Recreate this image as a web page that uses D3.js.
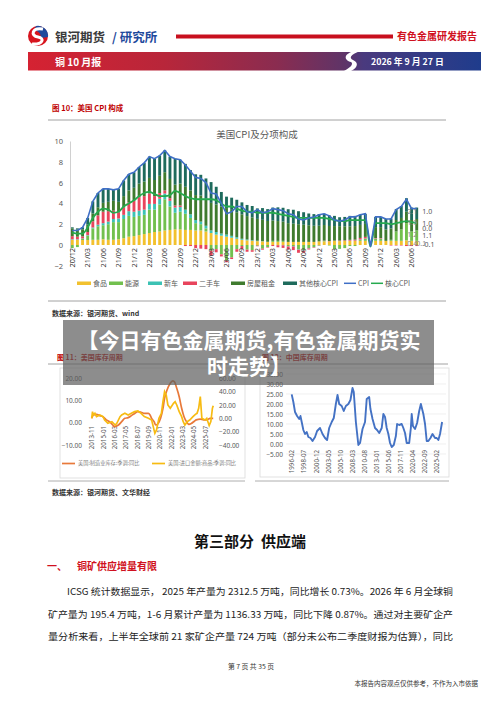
<!DOCTYPE html>
<html>
<meta charset="utf-8">
<head>
<script src="https://cdn.jsdelivr.net/npm/d3@7"></script>
<style>
body { margin: 0; background: #fff; }
svg { display: block; font-family: "Noto Sans CJK SC", "Noto Sans", sans-serif; }
</style>
</head>
<body>
<script>
// ---- 图10 美国CPI构成 (20/12 - 26/07, 68 months) ----
var months = ["20/12",
  "21/01","21/02","21/03","21/04","21/05","21/06","21/07","21/08","21/09","21/10","21/11","21/12",
  "22/01","22/02","22/03","22/04","22/05","22/06","22/07","22/08","22/09","22/10","22/11","22/12",
  "23/01","23/02","23/03","23/04","23/05","23/06","23/07","23/08","23/09","23/10","23/11","23/12",
  "24/01","24/02","24/03","24/04","24/05","24/06","24/07","24/08","24/09","24/10","24/11","24/12",
  "25/01","25/02","25/03","25/04","25/05","25/06","25/07","25/08","25/09","25/10","25/11","25/12",
  "26/01","26/02","26/03","26/04","26/05","26/06","26/07"];

var food = [0.5,0.5,0.48,0.48,0.5,0.5,0.55,0.5,0.5,0.55,
  0.65,0.8,0.85,0.95,1.05,1.15,1.25,1.3,1.4,1.45,
  1.5,1.5,1.45,1.45,1.4,1.4,1.3,1.15,1.0,0.9,
  0.8,0.7,0.6,0.5,0.45,0.4,0.37,0.35,0.3,0.3,
  0.3,0.3,0.3,0.3,0.3,0.3,0.3,0.3,0.35,0.35,
  0.35,0.4,0.37,0.4,0.4,0.4,0.4,0.4,0,0.4,
  0.4,0.4,0.4,0.4,0.4,0.45,0.4,0.4];
var energy = [-0.3,-0.2,0.12,0.42,1.1,1.3,1.35,1.5,1.7,1.65,
  1.85,2.0,1.85,1.85,1.85,2.25,2.15,2.6,3.0,2.25,
  1.6,1.7,1.55,1.15,0.7,0.6,0.3,-0.55,-0.4,-0.9,
  -1.5,-1.2,-0.4,-0.1,-0.45,-0.5,-0.07,-0.35,-0.2,0.1,
  0.1,0.1,-0.1,-0.1,-0.4,-0.5,-0.3,-0.2,-0.05,0.05,
  -0.05,-0.4,-0.37,-0.3,-0.1,-0.1,0.1,0.2,0,0.2,
  0.2,0.0,0.1,0.9,1.1,1.65,0.9,1.0];
var newCar = [0.05,0.05,0.03,0.05,0.08,0.15,0.2,0.25,0.3,0.35,
  0.4,0.45,0.5,0.5,0.5,0.55,0.55,0.55,0.55,0.55,
  0.5,0.45,0.4,0.35,0.3,0.25,0.25,0.25,0.25,0.2,
  0.2,0.18,0.15,0.1,0.08,0.05,0.04,0.02,0.01,0.0,
  -0.02,-0.03,-0.04,-0.04,-0.05,-0.05,-0.03,-0.02,-0.01,0.0,
  0.0,0.0,0.01,0.0,0.02,0.02,0.03,0.03,0,0.02,
  0.02,0.0,0.0,0.0,0.0,0.0,0.0,0.0];
var usedCar = [0.3,0.25,0.2,0.3,0.6,0.9,1.1,1.0,0.8,0.6,
  0.7,0.85,1.05,1.3,1.3,1.0,0.75,0.55,0.3,0.25,
  0.2,0.15,-0.1,-0.1,-0.3,-0.35,-0.4,-0.5,-0.3,-0.2,
  -0.15,-0.15,-0.25,-0.3,-0.2,-0.15,-0.05,-0.1,-0.05,-0.1,
  -0.2,-0.25,-0.3,-0.35,-0.3,-0.2,-0.1,-0.05,-0.02,0.02,
  0.03,0.02,0.05,0.05,0.08,0.1,0.15,0.15,0,0.05,
  0.05,0.0,-0.05,-0.05,-0.05,-0.1,-0.1,-0.1];
var rent = [0.75,0.7,0.68,0.7,0.75,0.78,0.85,0.9,0.95,1.0,
  1.1,1.15,1.25,1.3,1.4,1.5,1.55,1.65,1.75,1.85,
  2.0,2.1,2.2,2.3,2.4,2.5,2.6,2.65,2.65,2.6,
  2.55,2.5,2.4,2.35,2.25,2.2,2.1,2.05,2.0,1.95,
  1.9,1.85,1.8,1.75,1.7,1.65,1.6,1.55,1.5,1.5,
  1.45,1.4,1.38,1.35,1.3,1.3,1.25,1.25,0,1.05,
  1.05,1.1,1.1,1.1,1.1,1.1,1.1,1.1];
var otherCore = [0.1,0.1,0.19,0.65,1.17,1.37,1.35,1.25,1.05,1.25,
  1.5,1.55,1.5,1.6,1.8,2.05,2.05,1.95,2.1,2.15,
  2.5,2.3,2.2,1.95,2.0,2.0,1.95,2.0,1.7,1.4,
  1.1,1.17,1.2,1.15,1.07,1.1,1.01,1.13,1.14,1.25,
  1.32,1.33,1.34,1.34,1.25,1.2,1.13,1.12,1.13,1.08,
  1.02,0.98,0.86,0.9,1.0,0.98,0.97,0.97,0,0.98,
  0.98,1.0,0.95,1.05,1.15,1.3,1.2,1.1];
var cpi = [1.4,1.4,1.7,2.6,4.2,5.0,5.4,5.4,5.3,5.4,
  6.2,6.8,7.0,7.5,7.9,8.5,8.3,8.6,9.1,8.5,
  8.3,8.2,7.7,7.1,6.5,6.4,6.0,5.0,4.9,4.0,
  3.0,3.2,3.7,3.7,3.2,3.1,3.4,3.1,3.2,3.5,
  3.4,3.3,3.0,2.9,2.5,2.4,2.6,2.7,2.9,3.0,
  2.8,2.4,2.3,2.4,2.7,2.7,2.9,3.0,-0.15,2.7,
  2.7,2.5,2.5,3.4,3.7,4.4,3.5,3.5];
var coreCpi = [1.2,1.1,1.1,1.7,2.6,3.2,3.5,3.4,3.1,3.2,
  3.7,4.0,4.3,4.7,5.0,5.1,4.9,4.7,4.7,4.8,
  5.2,5.0,4.7,4.5,4.4,4.4,4.4,4.4,4.3,4.0,
  3.7,3.7,3.5,3.3,3.2,3.2,3.1,3.1,3.1,3.1,
  3.0,2.9,2.8,2.7,2.6,2.6,2.6,2.6,2.6,2.6,
  2.5,2.4,2.3,2.3,2.4,2.4,2.4,2.4,-0.15,2.1,
  2.1,2.1,2.0,2.1,2.2,2.3,2.2,2.1];
var cpiTicks = [-2, 0, 2, 4, 6, 8, 10];
// data labels drawn beside the last bar
var endLabelText = ["2.1","1.0","1.9","1.0","0.0","1.2","1.1","0.4","0.1","-0.1"];
var endLabelValue = [3.2, 3.2, 2.15, 2.1, 1.55, 1.0, 0.95, 0.15, 0.15, 0.0];
var endLabelSide = ["in","out","in","out","out","in","out","in","mid","out"];

// ---- 图11 美国库存周期 ----
var usMfgInventory = [["2013-11",2.0],["2014-01",3.5],["2014-05",3.8],["2014-09",3.2],["2015-01",2.7],
  ["2015-05",1.3],["2015-09",0.5],["2016-01",-1.0],["2016-03",-1.7],["2016-08",-1.0],["2016-12",0.5],
  ["2017-04",2.0],["2017-08",2.3],["2017-12",3.2],["2018-04",4.2],["2018-08",5.0],["2018-12",4.7],
  ["2019-04",4.2],["2019-09",4.2],["2019-11",3.5],["2020-01",2.0],["2020-04",0.5],["2020-06",-1.0],
  ["2020-09",-0.3],["2020-12",2.0],["2021-03",6.5],["2021-05",11.0],["2021-08",14.7],["2021-12",17.8],
  ["2022-03",18.8],["2022-05",18.5],["2022-08",15.5],["2022-11",11.7],["2023-02",6.5],["2023-05",2.7],
  ["2023-08",0.5],["2023-11",-0.7],["2024-02",-0.3],["2024-06",0.8],["2024-08",1.3],["2025-01",1.6],
  ["2025-05",1.3],["2025-09",1.3],["2026-01",2.0],["2026-05",2.0]];
var usImports = [["2013-11",0],["2013-12",10],["2014-01",5],["2014-03",7.5],["2014-05",2.5],["2014-09",5],
  ["2015-01",2.5],["2015-03",-2.5],["2015-07",-7.5],["2015-12",-5],["2016-04",-10],["2016-06",-7.5],
  ["2016-10",2.5],["2016-12",5],["2017-04",7.5],["2017-08",5],["2017-12",7.5],["2018-04",10],
  ["2018-08",11],["2018-12",7.5],["2019-04",2.5],["2019-09",0],["2020-01",-2.5],["2020-03",-12.5],
  ["2020-05",-22.5],["2020-07",-17.5],["2020-10",0],["2021-01",7.5],["2021-03",25],["2021-05",40],
  ["2021-07",35],["2021-09",20],["2021-12",15],["2022-04",22.5],["2022-06",25],["2022-08",20],
  ["2022-11",10],["2023-02",2.5],["2023-04",-5],["2023-06",-10],["2023-09",-5],["2023-12",-2.5],
  ["2024-04",2.5],["2024-07",6],["2024-09",7.5],["2024-11",15],["2025-01",32.5],["2025-03",0],
  ["2025-07",-2.5],["2025-09",0],["2025-12",-11],["2026-02",-5],["2026-04",15],["2026-05",19]];
var usLeftTicks = [-10, 0, 10, 20];
var usRightTicks = [-40, -20, 0, 20, 40, 60];

// ---- 图12 中国库存周期 ----
var cnInventory = [["1996-02",24.8],["1996-06",21],["1996-10",16],["1997-03",14],["1997-08",12.5],
  ["1997-11",14],["1998-02",11],["1998-06",7],["1998-10",5],["1999-02",6],["1999-06",3.5],
  ["1999-11",3],["2000-04",1.5],["2000-10",3.5],["2001-03",6.5],["2001-10",8],["2002-04",5],
  ["2002-10",3],["2003-03",2],["2003-08",8],["2004-02",11],["2004-07",13],["2004-12",20],
  ["2005-04",24.5],["2005-08",20],["2006-02",19],["2006-07",16.5],["2006-12",19],["2007-06",20],
  ["2007-11",22],["2008-04",28],["2008-07",26],["2008-12",11],["2009-06",-0.5],["2009-10",0.5],
  ["2010-04",7.5],["2010-10",11],["2011-02",22.5],["2011-08",23.5],["2011-11",17.5],["2012-04",12.5],
  ["2012-10",8],["2013-03",7],["2013-08",5.5],["2014-02",8],["2014-06",15],["2014-10",13.5],
  ["2015-02",8],["2015-06",5],["2015-10",0.5],["2016-02",-1.5],["2016-07",-0.5],["2016-12",4],
  ["2017-03",10],["2017-08",9.5],["2018-02",10],["2018-06",8],["2018-10",5.5],["2019-02",0.5],
  ["2019-08",0.5],["2019-12",8],["2020-02",15],["2020-05",9],["2020-10",7.5],["2021-03",10.5],
  ["2021-08",16.5],["2021-12",20],["2022-06",15],["2022-10",10],["2023-02",1.5],["2023-06",1.5],
  ["2023-11",3],["2024-04",5],["2024-10",3],["2025-02",3],["2025-06",2],["2025-10",5],["2026-03",11]];
var cnTicks = [-5, 0, 5, 10, 15, 20, 25, 30, 35];

var svg = d3.select("body").append("svg").attr("width", 500).attr("height", 707);
svg.append("rect").attr("width", 500).attr("height", 707).attr("fill", "#fff");
var defs = svg.append("defs");

// ---------- header ----------
var logo = svg.append("g").attr("transform", "translate(38,36)");
logo.append("circle").attr("r", 10).attr("fill", "#d7141e");
logo.append("path").attr("d", "M-2,-10 A10,10 0 0 1 10,1 L3,2 C3,-3 0,-5 -4,-6 Z").attr("fill", "#1f4a9c");
logo.append("path").attr("d", "M5,-7 C-6,-9 -8,0 0,1 C7,2 5,9 -6,8").attr("fill", "none").attr("stroke", "#fff").attr("stroke-width", 3);

svg.append("text").attr("x", 55).attr("y", 42).attr("font-size", 12.5).attr("font-weight", 700)
  .attr("fill", "#3a3a3a").text("银河期货");
svg.append("text").attr("x", 112).attr("y", 42).attr("font-size", 12.5).attr("font-weight", 700)
  .attr("fill", "#1f4a9c").text("/ 研究所");
svg.append("rect").attr("x", 176).attr("y", 34.5).attr("width", 217).attr("height", 4).attr("fill", "#c8101e");
svg.append("text").attr("x", 397).attr("y", 40).attr("font-size", 10).attr("font-weight", 700)
  .attr("fill", "#d0101e").text("有色金属研发报告");

var grad = defs.append("linearGradient").attr("id", "banner")
  .attr("gradientUnits", "userSpaceOnUse").attr("x1", 28).attr("x2", 481).attr("y1", 0).attr("y2", 0);
[[0, "#d52232"], [0.3, "#b8263a"], [0.55, "#8a2c50"], [0.7, "#5e3468"], [0.74, "#4a3a7e"], [1, "#1f3c8c"]]
  .forEach(function (s) { grad.append("stop").attr("offset", s[0]).attr("stop-color", s[1]); });
svg.append("rect").attr("x", 28).attr("y", 52).attr("width", 453).attr("height", 18.5).attr("fill", "url(#banner)");
svg.append("path").attr("d", "M354,51 C341,55 346,61 351,62 C354,64 350,68 344,71 L351,71 C359,67 358,62 353,60 C349,58 350,55 360,51 Z")
  .attr("fill", "#fff");
svg.append("text").attr("x", 55).attr("y", 65.5).attr("font-size", 10).attr("font-weight", 700)
  .attr("fill", "#fff").text("铜 10 月报");
svg.append("text").attr("x", 371).attr("y", 65).attr("font-size", 8.8).attr("font-weight", 700)
  .attr("fill", "#fff").text("2026 年 9 月 27 日");

// ---------- 图10 ----------
svg.append("text").attr("x", 52).attr("y", 110.5).attr("font-size", 7.5).attr("font-weight", 700)
  .attr("fill", "#c00000").text("图 10：美国 CPI 构成");
svg.append("line").attr("x1", 48).attr("x2", 446).attr("y1", 120).attr("y2", 120).attr("stroke", "#8c8c8c").attr("stroke-width", 0.8);
svg.append("text").attr("x", 257).attr("y", 138).attr("text-anchor", "middle").attr("font-size", 9.5)
  .attr("fill", "#595959").text("美国CPI及分项构成");

var keys = ["food", "energy", "newCar", "usedCar", "rent", "other"];
var names = {food: "食品", energy: "能源", newCar: "新车", usedCar: "二手车", rent: "房屋租金", other: "其他核心CPI"};
var colors = {food: "#f2c12e", energy: "#72c04e", newCar: "#3cc2b4", usedCar: "#e8445c", rent: "#3f7b2e", other: "#1e6b5c"};

var rows = months.map(function (m, i) {
  return {m: m, food: food[i], energy: energy[i], newCar: newCar[i], usedCar: usedCar[i], rent: rent[i], other: otherCore[i]};
});
var series = d3.stack().keys(keys).offset(d3.stackOffsetDiverging)(rows);

var x = d3.scaleBand().domain(months).range([69.7, 419.3]).paddingInner(0.44).paddingOuter(0.22);
var y = d3.scaleLinear().domain([-2, 10]).range([265.8, 141]);
var half = x.bandwidth() / 2;

var chart = svg.append("g");
chart.selectAll("g.layer").data(series).join("g").attr("class", "layer")
  .attr("fill", function (d) { return colors[d.key]; })
  .selectAll("rect").data(function (d) { return d; }).join("rect")
  .attr("x", function (d) { return x(d.data.m); })
  .attr("width", x.bandwidth())
  .attr("y", function (d) { return y(Math.max(d[0], d[1])); })
  .attr("height", function (d) { return Math.abs(y(d[0]) - y(d[1])); });

var lineCpi = d3.line().x(function (d, i) { return x(months[i]) + half; }).y(function (d) { return y(d); });
var lineCore = d3.line().x(function (d, i) { return x(months[i]) + half; }).y(function (d) { return y(d); })
  .curve(d3.curveMonotoneX);
chart.append("path").datum(coreCpi).attr("d", lineCore).attr("fill", "none")
  .attr("stroke", "#25aa4e").attr("stroke-width", 1.8);
chart.append("path").datum(cpi).attr("d", lineCpi).attr("fill", "none")
  .attr("stroke", "#3f6fc6").attr("stroke-width", 1.6);

var yAx = chart.append("g").attr("transform", "translate(70,0)")
  .call(d3.axisLeft(y).tickValues(cpiTicks).tickSize(0).tickPadding(7));
yAx.select(".domain").attr("stroke", "#d0d0d0");
yAx.selectAll("text").attr("font-size", 7.5).attr("fill", "#595959").attr("font-family", "Noto Sans");

var xAx = chart.append("g").attr("transform", "translate(0," + y(0) + ")")
  .call(d3.axisBottom(x).tickValues(months.filter(function (d, i) { return i % 3 === 0; })).tickSize(0));
xAx.select(".domain").remove();
xAx.selectAll("text").attr("transform", "rotate(-90)").attr("x", -3).attr("y", 0).attr("dy", "0.35em")
  .style("text-anchor", "end").attr("font-size", 7.3).attr("fill", "#404040").attr("font-family", "Noto Sans");

var lastX = x(months[months.length - 1]);
chart.selectAll("text.endlab").data(endLabelText).join("text").attr("class", "endlab")
  .attr("x", function (d, i) { return endLabelSide[i] === "out" ? lastX + 7 : endLabelSide[i] === "mid" ? lastX + 1 : lastX - 8; })
  .attr("y", function (d, i) { return y(endLabelValue[i]); })
  .attr("dy", "0.35em").attr("font-size", 7).attr("font-family", "Noto Sans")
  .attr("fill", function (d, i) { return endLabelSide[i] === "out" ? "#595959" : "#8a8a8a"; })
  .text(function (d) { return d; });

// legend
var legendX = [77, 109, 148, 183, 231, 283];
var legend = chart.append("g").attr("font-size", 7).attr("fill", "#595959");
keys.forEach(function (k, i) {
  legend.append("rect").attr("x", legendX[i]).attr("y", 281.5).attr("width", 14).attr("height", 3.5).attr("fill", colors[k]);
  legend.append("text").attr("x", legendX[i] + 16).attr("y", 283.3).attr("dy", "0.35em").text(names[k]);
});
[["CPI", "#3f6fc6", 344], ["核心CPI", "#25aa4e", 371]].forEach(function (l) {
  legend.append("line").attr("x1", l[2]).attr("x2", l[2] + 12).attr("y1", 283.3).attr("y2", 283.3)
    .attr("stroke", l[1]).attr("stroke-width", 1.5);
  legend.append("text").attr("x", l[2] + 14).attr("y", 283.3).attr("dy", "0.35em").text(l[0]);
});

svg.append("line").attr("x1", 48).attr("x2", 446).attr("y1", 301).attr("y2", 301).attr("stroke", "#8c8c8c").attr("stroke-width", 0.8);
svg.append("text").attr("x", 52).attr("y", 316).attr("font-size", 7).attr("font-weight", 700)
  .attr("fill", "#333").text("数据来源：银河期货、wind");

// ---------- 图11 / 图12 ----------
var parse = d3.timeParse("%Y-%m");
var fmt = d3.timeFormat("%Y-%m");

svg.append("text").attr("x", 57).attr("y", 360).attr("font-size", 7).attr("font-weight", 700)
  .attr("fill", "#c00000").text("图 11：美国库存周期");
svg.append("text").attr("x", 262).attr("y", 360).attr("font-size", 7).attr("font-weight", 700)
  .attr("fill", "#c00000").text("图 12：中国库存周期");
svg.append("line").attr("x1", 48).attr("x2", 448).attr("y1", 364).attr("y2", 364).attr("stroke", "#8c8c8c").attr("stroke-width", 0.8);
svg.append("rect").attr("x", 60).attr("y", 368).attr("width", 185).attr("height", 110)
  .attr("fill", "none").attr("stroke", "#d9d9d9").attr("stroke-width", 0.8);
svg.append("rect").attr("x", 260).attr("y", 368).attr("width", 189).attr("height", 109)
  .attr("fill", "none").attr("stroke", "#d9d9d9").attr("stroke-width", 0.8);
svg.append("line").attr("x1", 48).attr("x2", 245).attr("y1", 481).attr("y2", 481).attr("stroke", "#999").attr("stroke-width", 0.8);
svg.append("line").attr("x1", 255).attr("x2", 449).attr("y1", 481).attr("y2", 481).attr("stroke", "#999").attr("stroke-width", 0.8);

// US chart
var xu = d3.scaleTime().domain([parse("2013-11"), parse("2026-05")]).range([91.7, 213.2]);
var yl = d3.scaleLinear().domain([-10, 20]).range([445, 378.3]);
var yr = d3.scaleLinear().domain([-40, 60]).range([445, 378.3]);
var us = svg.append("g");
var usTicks = d3.range(11).map(function (i) { return d3.timeMonth.offset(parse("2013-11"), 14 * i); });
var xuAx = us.append("g").attr("transform", "translate(0,423)")
  .call(d3.axisBottom(xu).tickValues(usTicks).tickFormat(fmt).tickSize(0));
xuAx.select(".domain").remove();
xuAx.selectAll("text").attr("transform", "rotate(-90)").attr("x", -3).attr("y", 0).attr("dy", "0.35em")
  .style("text-anchor", "end").attr("font-size", 6.2).attr("fill", "#595959").attr("font-family", "Noto Sans");
var ylAx = us.append("g").attr("transform", "translate(84,0)")
  .call(d3.axisLeft(yl).tickValues(usLeftTicks).tickFormat(d3.format(".2f")).tickSize(0).tickPadding(2));
ylAx.select(".domain").remove();
ylAx.selectAll("text").attr("font-size", 6.5).attr("fill", "#595959").attr("font-family", "Noto Sans");
var yrAx = us.append("g").attr("transform", "translate(218,0)")
  .call(d3.axisRight(yr).tickValues(usRightTicks).tickFormat(d3.format(".2f")).tickSize(0).tickPadding(1));
yrAx.select(".domain").remove();
yrAx.selectAll("text").attr("font-size", 6.5).attr("fill", "#595959").attr("font-family", "Noto Sans");

us.append("path").datum(usMfgInventory)
  .attr("d", d3.line().x(function (d) { return xu(parse(d[0])); }).y(function (d) { return yl(d[1]); }).curve(d3.curveMonotoneX))
  .attr("fill", "none").attr("stroke", "#e8793a").attr("stroke-width", 1.7);
us.append("path").datum(usImports)
  .attr("d", d3.line().x(function (d) { return xu(parse(d[0])); }).y(function (d) { return yr(d[1]); }))
  .attr("fill", "none").attr("stroke", "#f7bb12").attr("stroke-width", 1.7);

[["美国:制造业库存:季调:同比", "#e8793a", 62], ["美国:进口金额:商品:季调:同比", "#f7bb12", 152]].forEach(function (l) {
  us.append("line").attr("x1", l[2]).attr("x2", l[2] + 13).attr("y1", 463.5).attr("y2", 463.5)
    .attr("stroke", l[1]).attr("stroke-width", 1.7);
  us.append("text").attr("x", l[2] + 16).attr("y", 463.5).attr("dy", "0.35em").attr("font-size", 5.2)
    .attr("fill", "#7f7f7f").text(l[0]);
});

// China chart
var xc = d3.scaleTime().domain([parse("1996-02"), parse("2026-03")]).range([291.7, 442.1]);
var yc = d3.scaleLinear().domain([-5, 35]).range([454, 374]);
var cn = svg.append("g");
cn.selectAll("line.grid").data(cnTicks).join("line").attr("class", "grid")
  .attr("x1", 286).attr("x2", 446).attr("y1", function (d) { return yc(d); }).attr("y2", function (d) { return yc(d); })
  .attr("stroke", "#e6e6e6").attr("stroke-width", 0.6);
var ycAx = cn.append("g").attr("transform", "translate(285,0)")
  .call(d3.axisLeft(yc).tickValues(cnTicks).tickFormat(d3.format(".2f")).tickSize(0).tickPadding(2));
ycAx.select(".domain").remove();
ycAx.selectAll("text").attr("font-size", 6.5).attr("fill", "#595959").attr("font-family", "Noto Sans");
var cnTickDates = d3.range(13).map(function (i) { return d3.timeMonth.offset(parse("1996-02"), 29 * i); });
var xcAx = cn.append("g").attr("transform", "translate(0,448)")
  .call(d3.axisBottom(xc).tickValues(cnTickDates).tickFormat(fmt).tickSize(0));
xcAx.select(".domain").remove();
xcAx.selectAll("text").attr("transform", "rotate(-90)").attr("x", -2).attr("y", 0).attr("dy", "0.35em")
  .style("text-anchor", "end").attr("font-size", 6.2).attr("fill", "#595959").attr("font-family", "Noto Sans");
cn.append("path").datum(cnInventory)
  .attr("d", d3.line().x(function (d) { return xc(parse(d[0])); }).y(function (d) { return yc(d[1]); }))
  .attr("fill", "none").attr("stroke", "#4472c4").attr("stroke-width", 1.9).attr("stroke-linejoin", "round");

svg.append("text").attr("x", 52).attr("y", 494.5).attr("font-size", 7).attr("font-weight", 700)
  .attr("fill", "#333").text("数据来源：银河期货、文华财经");

// ---------- overlay title ----------
svg.append("rect").attr("x", 63).attr("y", 320).attr("width", 371).attr("height", 65)
  .attr("fill", "#5c5c5c").attr("opacity", 0.7);
svg.append("text").attr("x", 249).attr("y", 348).attr("text-anchor", "middle").attr("font-size", 21)
  .attr("font-weight", 700).attr("fill", "#fff").text("【今日有色金属期货,有色金属期货实");
svg.append("text").attr("x", 249).attr("y", 374).attr("text-anchor", "middle").attr("font-size", 21)
  .attr("font-weight", 700).attr("fill", "#fff").text("时走势】");

// ---------- text body ----------
svg.append("text").attr("x", 250).attr("y", 547).attr("text-anchor", "middle").attr("font-size", 15)
  .attr("font-weight", 700).attr("fill", "#111").style("white-space", "pre").text("第三部分  供应端");
svg.append("text").attr("x", 47).attr("y", 570).attr("font-size", 10).attr("font-weight", 700)
  .attr("fill", "#d01020").text("一、");
svg.append("text").attr("x", 77).attr("y", 570).attr("font-size", 10).attr("font-weight", 700)
  .attr("fill", "#d01020").text("铜矿供应增量有限");
var body = [
  ["ICSG 统计数据显示， 2025 年产量为 2312.5 万吨，同比增长 0.73%。2026 年 6 月全球铜", 67, 595, 386],
  ["矿产量为 195.4 万吨，1-6 月累计产量为 1136.33 万吨，同比下降 0.87%。通过对主要矿企产", 48, 618, 405],
  ["量分析来看，上半年全球前 21 家矿企产量 724 万吨（部分未公布二季度财报为估算），同比", 48, 640, 405]
];
body.forEach(function (b) {
  svg.append("text").attr("x", b[1]).attr("y", b[2]).attr("font-size", 9.4).attr("fill", "#222")
    .attr("textLength", b[3]).attr("lengthAdjust", "spacingAndGlyphs").text(b[0]);
});
svg.append("text").attr("x", 251).attr("y", 669).attr("text-anchor", "middle").attr("font-size", 6.8)
  .attr("fill", "#333").text("第 7 页 共 35 页");
svg.append("text").attr("x", 478).attr("y", 686).attr("text-anchor", "end").attr("font-size", 6.5)
  .attr("fill", "#333").text("本报告内容观点仅供参考，不作为入市依据");
</script>
</body>
</html>
